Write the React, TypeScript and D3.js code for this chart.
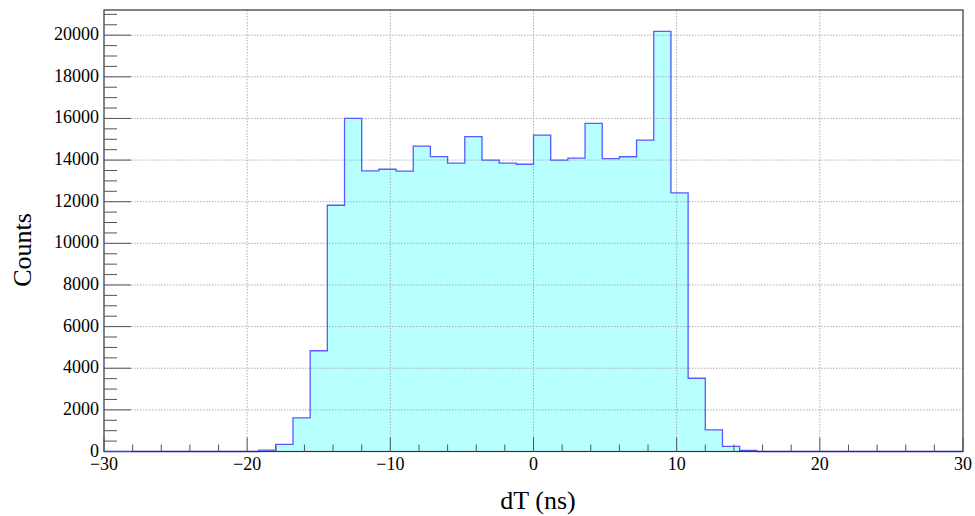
import React from "react";
import * as d3 from "d3";

// Histogram of dT (ns): 50 bins of 1.2 ns from -30 to 30; only non-empty bins listed
const binStarts = [
  -19.2, -18, -16.8, -15.6, -14.4, -13.2, -12, -10.8, -9.6, -8.4, -7.2, -6, -4.8, -3.6,
  -2.4, -1.2, 0, 1.2, 2.4, 3.6, 4.8, 6, 7.2, 8.4, 9.6, 10.8, 12, 13.2, 14.4,
];
const counts = [
  70, 345, 1620, 4840, 11830, 16000, 13480, 13560, 13470, 14670, 14170, 13850, 15130, 14000,
  13850, 13800, 15200, 14000, 14090, 15760, 14070, 14160, 14960, 20180, 12420, 3520, 1040, 250, 55,
];
const binWidth = 1.2;
const xDomain = [-30, 30];
const yMax = 21210;
const xTicks = [-30, -20, -10, 0, 10, 20, 30];
const yTicks = [0, 2000, 4000, 6000, 8000, 10000, 12000, 14000, 16000, 18000, 20000];
const xTitle = "dT (ns)";
const yTitle = "Counts";

const W = 975;
const H = 516;
const L = 104;
const R = 963;
const T = 10;
const B = 451.5;

export default function App() {
  const x = d3.scaleLinear().domain(xDomain).range([L, R]);
  const y = d3.scaleLinear().domain([0, yMax]).range([B, T]);

  const bins = binStarts.map((s, i) => ({ x0: s, x1: s + binWidth, v: counts[i] }));

  // outer step outline across full range
  const pts: [number, number][] = [[xDomain[0], 0]];
  bins.forEach((b) => {
    pts.push([b.x0, b.v]);
    pts.push([b.x1, b.v]);
  });
  pts.unshift();
  const outlinePts: [number, number][] = [[xDomain[0], 0], [bins[0].x0, 0]];
  bins.forEach((b) => {
    outlinePts.push([b.x0, b.v]);
    outlinePts.push([b.x1, b.v]);
  });
  outlinePts.push([bins[bins.length - 1].x1, 0]);
  outlinePts.push([xDomain[1], 0]);
  const outline = d3
    .line<[number, number]>()
    .x((d) => x(d[0]))
    .y((d) => y(d[1]))(outlinePts) as string;

  const yMinor = d3.range(0, yMax, 500);
  const xMinor = d3.range(xDomain[0], xDomain[1] + 0.001, 2);
  const font = "'Liberation Serif', 'Times New Roman', serif";

  return (
    <svg
      width={W}
      height={H}
      style={{ position: "absolute", left: 0, top: 0, background: "#fff" }}
      fontFamily={font}
    >
      <rect x={0} y={0} width={W} height={H} fill="#fff" />
      {/* fill */}
      {bins.map((b, i) => (
        <rect
          key={i}
          x={x(b.x0)}
          y={y(b.v)}
          width={x(b.x1) - x(b.x0) + 0.5}
          height={B - y(b.v)}
          fill="#b8ffff"
        />
      ))}
      {/* grid */}
      {xTicks
        .filter((t) => t !== xDomain[0] && t !== xDomain[1])
        .map((t) => (
          <line
            key={"gx" + t}
            x1={x(t)}
            x2={x(t)}
            y1={T}
            y2={B}
            stroke="#9a9a9a"
            strokeWidth={0.8}
            strokeDasharray="1.5,1.5"
          />
        ))}
      {yTicks
        .filter((t) => t !== 0)
        .map((t) => (
          <line
            key={"gy" + t}
            x1={L}
            x2={R}
            y1={y(t)}
            y2={y(t)}
            stroke="#9a9a9a"
            strokeWidth={0.8}
            strokeDasharray="1.5,1.5"
          />
        ))}
      {/* outline */}
      <path d={outline} fill="none" stroke="#5a5aff" strokeWidth={1.3} />
      {/* frame */}
      <rect x={L} y={T} width={R - L} height={B - T} fill="none" stroke="#333" strokeWidth={1.2} />
      {/* y ticks */}
      {yMinor.map((t) => {
        const major = t % 2000 === 0;
        return (
          <line
            key={"yt" + t}
            x1={L}
            x2={L + (major ? 27 : 13)}
            y1={y(t)}
            y2={y(t)}
            stroke="#555"
            strokeWidth={1}
          />
        );
      })}
      {/* x ticks */}
      {xMinor.map((t) => {
        const major = Math.abs(t % 10) < 1e-6;
        return (
          <line
            key={"xt" + t}
            x1={x(t)}
            x2={x(t)}
            y1={B}
            y2={B - (major ? 14 : 7)}
            stroke="#555"
            strokeWidth={1}
          />
        );
      })}
      {/* y labels */}
      {yTicks.map((t) => (
        <text key={"yl" + t} x={L - 5} y={y(t) + 5} textAnchor="end" fontSize={18} fill="#000">
          {t}
        </text>
      ))}
      {/* x labels */}
      {xTicks.map((t) => (
        <text key={"xl" + t} x={x(t)} y={470} textAnchor="middle" fontSize={18} fill="#000">
          {t < 0 ? "\u2212" + Math.abs(t) : String(t)}
        </text>
      ))}
      {/* titles */}
      <text x={538} y={509} textAnchor="middle" fontSize={26} fill="#000">
        {xTitle}
      </text>
      <text
        transform={`translate(31, 250) rotate(-90)`}
        textAnchor="middle"
        fontSize={26}
        fill="#000"
      >
        {yTitle}
      </text>
    </svg>
  );
}
